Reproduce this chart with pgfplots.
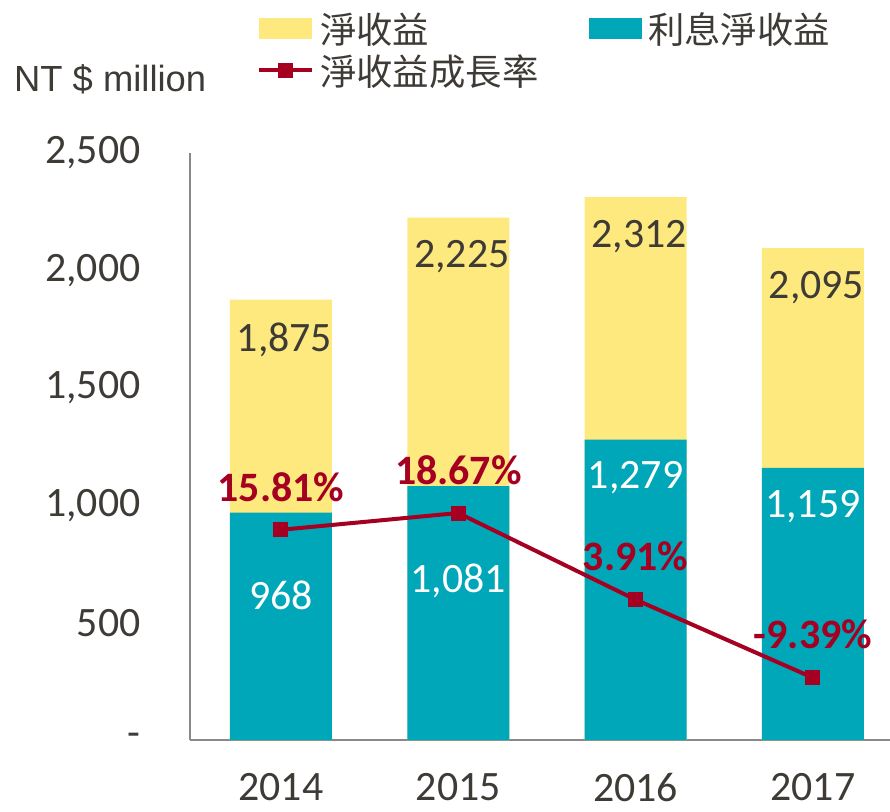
\documentclass[border=0pt]{standalone}
\usepackage{fontspec}
\setmainfont{Carlito}
\newfontfamily\cjk{Noto Sans CJK TC}
\newfontfamily\arialf{Liberation Sans}
\usepackage{pgfplots}
\usepackage{pgfplotstable}
\pgfplotsset{compat=1.18}
\definecolor{ylw}{RGB}{253,233,125}
\definecolor{tealb}{RGB}{0,167,184}
\definecolor{dred}{RGB}{165,0,33}
\definecolor{txt}{RGB}{62,58,54}
\definecolor{axg}{RGB}{137,137,137}

\pgfplotsset{
  boxlegend/.style={legend image code/.code={\fill[##1] (0bp,-10.5bp) rectangle (53bp,10.5bp);}},
  linelegend/.style={legend image code/.code={\draw[##1, sharp plot, mark repeat=2, mark phase=2] plot coordinates {(0bp,0bp) (26.5bp,0bp) (53bp,0bp)};}},
}

\pgfplotstableread{
x total interest
0 1875 968
1 2225 1081
2 2312 1279
3 2095 1159
}\bardata
\pgfplotstableread{
x g label
0 15.81 15.81
1 18.67 18.67
2 3.91 3.91
3 -9.39 -9.39
}\linedata

\begin{document}
\begin{tikzpicture}
\useasboundingbox (0,0) rectangle (890bp,812bp);
\begin{axis}[
  at={(190bp,72bp)}, anchor=south west,
  scale only axis, width=700bp, height=587bp,
  xmin=-0.513, xmax=3.435, ymin=0, ymax=2500,
  axis x line=bottom, axis y line=left,
  axis line style={draw=axg, line width=1.5bp, -},
  xtick={0,1,2,3}, xticklabels={2014,2015,2016,2017},
  ytick={0,500,1000,1500,2000,2500},
  yticklabels={-\hspace{34bp},500,{1,000},{1,500},{2,000},{2,500}},
  major tick length=0pt,
  ticklabel style={font=\fontsize{42}{50}\selectfont, text=txt},
  yticklabel style={xshift=-46bp},
  xticklabel style={yshift=-30bp},
  clip=false,
  legend columns=2,
  legend cell align=left,
  legend style={at={(axis description cs:0.0957,1.2400)}, anchor=north west,
    draw=none, fill=none, inner sep=0pt,
    font=\cjk\fontsize{36.5}{40}\selectfont, text=txt,
    column sep=6bp, row sep=9.5bp,
    nodes={inner sep=0pt}},
]
\addplot[ybar, bar width=102bp, bar shift=0pt, fill=ylw, draw=none, boxlegend]
  table[x=x, y=total] \bardata;
\addlegendentry{\makebox[263bp][l]{淨收益}}
\addplot[ybar, bar width=102bp, bar shift=0pt, fill=tealb, draw=none, boxlegend]
  table[x=x, y=interest] \bardata;
\addlegendentry{利息淨收益}
\addlegendimage{dred, line width=4bp, mark=square*, mark size=5.5bp, linelegend}
\addlegendentry{淨收益成長率}

\begin{scope}[every node/.style={font=\fontsize{42}{50}\selectfont, inner sep=0pt}]
\node[text=txt] at (axis cs:0.02,1705) {1,875};
\node[text=txt] at (axis cs:1.02,2057) {2,225};
\node[text=txt] at (axis cs:2.02,2146) {2,312};
\node[text=txt] at (axis cs:3.02,1925) {2,095};
\node[text=white] at (axis cs:0,617) {968};
\node[text=white] at (axis cs:1,677) {1,081};
\node[text=white] at (axis cs:2,1118) {1,279};
\node[text=white] at (axis cs:3,995) {1,159};
\end{scope}
\end{axis}

\begin{axis}[
  at={(190bp,72bp)}, anchor=south west,
  scale only axis, width=700bp, height=587bp,
  xmin=-0.513, xmax=3.435, ymin=-20, ymax=80,
  hide axis, clip=false,
]
\addplot[dred, line width=4bp, mark=square*, mark size=5.5bp,
  point meta=explicit symbolic,
  nodes near coords={\pgfplotspointmeta\%},
  every node near coord/.append style={font=\bfseries\fontsize{42}{50}\selectfont, text=dred, anchor=center, yshift=43bp, inner sep=0pt}]
  table[x=x, y=g, meta=label] \linedata;
\end{axis}

\node[anchor=base west, inner sep=0pt, font=\arialf\fontsize{36.5}{44}\selectfont, text=txt] at (14bp,720bp) {NT \$ million};
\end{tikzpicture}
\end{document}
